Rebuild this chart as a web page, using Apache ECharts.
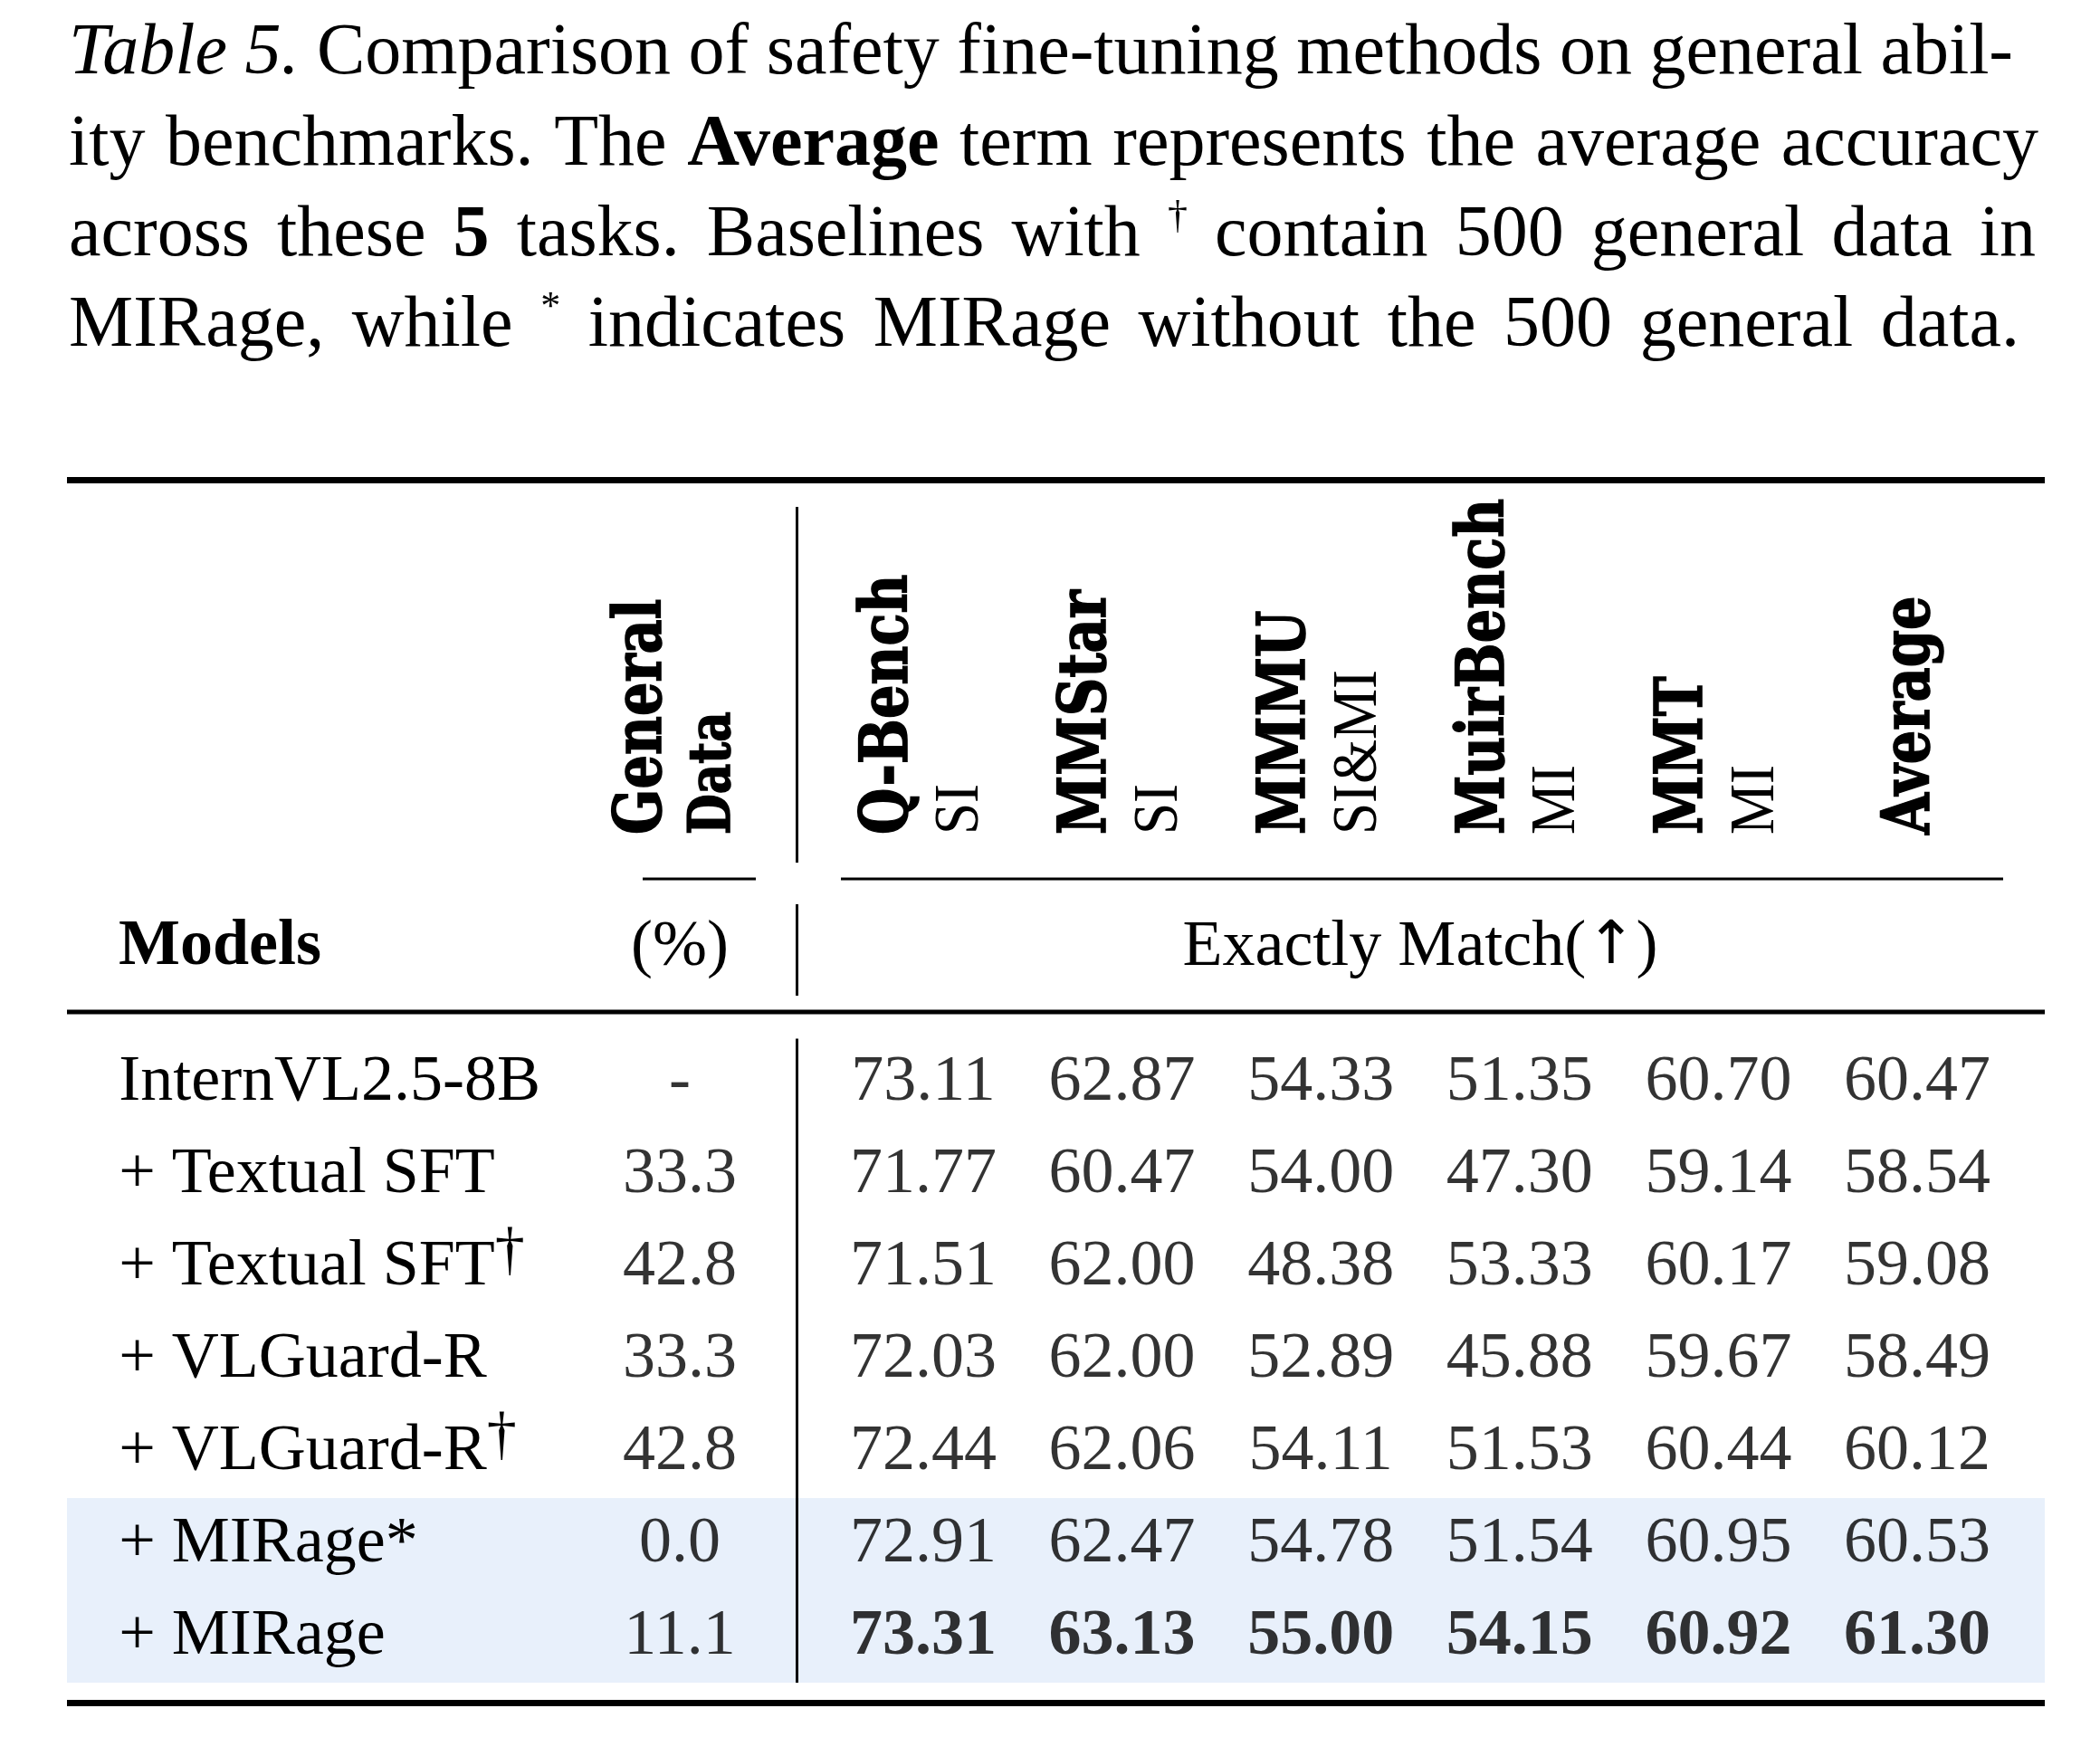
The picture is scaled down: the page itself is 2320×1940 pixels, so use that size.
<!DOCTYPE html>
<html>
<head>
<meta charset="utf-8">
<script src="https://cdn.jsdelivr.net/npm/echarts@6/dist/echarts.min.js"></script>
<style>
html,body{margin:0;padding:0;background:#ffffff;}
#chart{width:2320px;height:1940px;}
</style>
</head>
<body>
<div id="chart"></div>
<script>
// ---------------- DATA ----------------
const models = ['InternVL2.5-8B', '+ Textual SFT', '+ Textual SFT\u2020', '+ VLGuard-R', '+ VLGuard-R\u2020', '+ MIRage*', '+ MIRage'];
const generalData = [null, 33.3, 42.8, 33.3, 42.8, 0.0, 11.1];
const benchmarks = ['Q-Bench', 'MMStar', 'MMMU', 'MuirBench', 'MMT', 'Average'];
const benchmarkTypes = ['SI', 'SI', 'SI&MI', 'MI', 'MI', ''];
const qBench    = [73.11, 71.77, 71.51, 72.03, 72.44, 72.91, 73.31];
const mmStar    = [62.87, 60.47, 62.00, 62.00, 62.06, 62.47, 63.13];
const mmmu      = [54.33, 54.00, 48.38, 52.89, 54.11, 54.78, 55.00];
const muirBench = [51.35, 47.30, 53.33, 45.88, 51.53, 51.54, 54.15];
const mmt       = [60.70, 59.14, 60.17, 59.67, 60.44, 60.95, 60.92];
const average   = [60.47, 58.54, 59.08, 58.49, 60.12, 60.53, 61.30];
const highlightedModels = ['+ MIRage*', '+ MIRage'];
const boldModel = '+ MIRage';
const captionLines = [
  [['Table 5.', 'i'], [' Comparison of safety fine-tuning methods on general abil-', 'r']],
  [['ity benchmarks. The ', 'r'], ['Average', 'b'], [' term represents the average accuracy', 'r']],
  [['across these ', 'r'], ['5', 'b'], [' tasks. Baselines with ', 'r'], ['\u2020', 'sup'], [' contain 500 general data in', 'r']],
  [['MIRage, while ', 'r'], ['*', 'sup'], [' indicates MIRage without the 500 general data.', 'r']]
];

// ---------------- STYLE / LAYOUT ----------------
const SERIF = '"Liberation Serif", "Times New Roman", serif';
const HEAD = '"DejaVu Serif", serif';
const BODY_FS = 72;
const CAP_FS = 80;
const MID = 0.3375; // canvas middle-baseline offset (em) for Liberation Serif
const captionLeft = 76;
const captionRight = [2224, 2252, 2249, 2231];
const captionBaseline = [87, 188, 288, 388];
const tableLeft = 74, tableRight = 2259;
const bandColor = '#E8F0FB';
const headScale = 0.82;

const chart = echarts.init(document.getElementById('chart'), null, {renderer: 'canvas'});

const benchValues = [qBench, mmStar, mmmu, muirBench, mmt, average];
const numData = [];
benchValues.forEach((arr, i) => arr.forEach((v, j) => {
  numData.push({value: [i, j, v], label: {fontWeight: models[j] === boldModel ? 'bold' : 'normal'}});
}));
const gdData = generalData.map((v, j) => ({value: [0, j, v]}));

function fmtModel(name) {
  return name.replace(/\u2020/g, '{sup|\u2020}');
}

const labelBase = {show: true, position: 'inside', fontFamily: SERIF, fontSize: BODY_FS, color: '#000'};

const option = {
  animation: false,
  backgroundColor: '#ffffff',
  grid: [
    {left: 910.2, top: 1144.6, width: 1317.6, height: 714.5},
    {left: 701, top: 1144.6, width: 100, height: 714.5}
  ],
  xAxis: [
    {type: 'category', gridIndex: 0, data: benchmarks, show: false},
    {type: 'category', gridIndex: 1, data: ['General Data'], show: false}
  ],
  yAxis: [
    {type: 'category', gridIndex: 0, data: models, inverse: true,
     axisLine: {show: false}, axisTick: {show: false}, splitLine: {show: false},
     axisLabel: {interval: 0, align: 'left', margin: 779, fontFamily: SERIF, fontSize: BODY_FS, color: '#000',
       formatter: fmtModel,
       rich: {sup: {fontFamily: SERIF, fontSize: 66, color: '#000', padding: [0, 0, 32, 0]}}}},
    {type: 'category', gridIndex: 1, data: models, inverse: true, show: false}
  ],
  series: [
    {type: 'scatter', xAxisIndex: 0, yAxisIndex: 0, symbolSize: 1,
     itemStyle: {color: 'rgba(0,0,0,0)'}, encode: {x: 0, y: 1},
     label: Object.assign({}, labelBase, {formatter: p => p.value[2].toFixed(2)}),
     data: numData},
    {type: 'scatter', xAxisIndex: 1, yAxisIndex: 1, symbolSize: 1,
     itemStyle: {color: 'rgba(0,0,0,0)'}, encode: {x: 0, y: 1},
     label: Object.assign({}, labelBase, {formatter: p => p.value[2] == null ? '-' : p.value[2].toFixed(1)}),
     data: gdData}
  ]
};
chart.setOption(option);

// ---------------- DECORATION (derived from axes) ----------------
const colX = benchmarks.map((b, i) => chart.convertToPixel({xAxisIndex: 0}, i));
const gdX = chart.convertToPixel({xAxisIndex: 1}, 0);
const rowY = models.map((m, j) => chart.convertToPixel({yAxisIndex: 0}, j));
const rowH = rowY[1] - rowY[0];

const els = [];
function rect(x, y, w, h, fill, z) {
  els.push({type: 'rect', silent: true, z: z == null ? 5 : z, shape: {x, y, width: w, height: h}, style: {fill}});
}
function htext(x, y, text, font, align, rich) {
  els.push({type: 'text', silent: true, z: 5, x, y,
    style: {text, font, fill: '#000', textAlign: align, align: align, textVerticalAlign: 'middle', verticalAlign: 'middle', rich: rich}});
}
function vtext(x, y, text, font, s, heavy) {
  const style = {text, font, fill: '#000', textAlign: 'left', align: 'left', textVerticalAlign: 'middle', verticalAlign: 'middle'};
  if (heavy) { style.stroke = '#000'; style.lineWidth = 1.6; }
  els.push({type: 'text', silent: true, z: 5, x, y, rotation: Math.PI / 2, scaleX: s, scaleY: 1, style});
}

// highlight bands
models.forEach((m, j) => {
  if (highlightedModels.indexOf(m) >= 0) rect(tableLeft, rowY[j] - rowH / 2, tableRight - tableLeft, rowH, bandColor, -10);
});

// rules
rect(tableLeft, 527, tableRight - tableLeft, 7, '#000');
rect(tableLeft, 1115.5, tableRight - tableLeft, 5, '#000');
rect(tableLeft, 1878, tableRight - tableLeft, 7, '#000');
const vx = 880.5;
rect(vx - 1.5, 560, 3, 393, '#000');
rect(vx - 1.5, 999, 3, 101, '#000');
rect(vx - 1.5, rowY[0] - rowH / 2 + 3, 3, rowY[rowY.length - 1] + rowH / 2 - (rowY[0] - rowH / 2 + 3), '#000');
rect(gdX - 41, 969.5, 125, 3, '#000');
rect(colX[0] - 91, 969.5, colX[colX.length - 1] + 95 - (colX[0] - 91), 3, '#000');

// rotated headers
const headBottom = 922;
vtext(gdX - 40, headBottom, 'General', 'bold 72px ' + HEAD, headScale, true);
vtext(gdX + 39, headBottom, 'Data', 'bold 63px ' + HEAD, headScale, true);
benchmarks.forEach((b, i) => {
  if (benchmarkTypes[i]) {
    vtext(colX[i] - 37, headBottom, b, 'bold 72px ' + HEAD, headScale, true);
    vtext(colX[i] + 42, headBottom, benchmarkTypes[i], '70px ' + SERIF, 0.9, false);
  } else {
    vtext(colX[i] - 6, headBottom, b, 'bold 72px ' + HEAD, headScale, true);
  }
});

// second header row
const hdrY = 1071 - MID * BODY_FS;
htext(131, hdrY, 'Models', 'bold ' + BODY_FS + 'px ' + SERIF, 'left');
htext(gdX, hdrY, '(%)', BODY_FS + 'px ' + SERIF, 'center');
htext((colX[0] + colX[colX.length - 1]) / 2, hdrY, 'Exactly Match({arr|\u2191})', BODY_FS + 'px ' + SERIF, 'center',
  {arr: {fontFamily: '"DejaVu Sans", sans-serif', fontSize: 66, fontWeight: 'normal', fill: '#000', color: '#000'}});

// caption (justified lines)
const capFonts = {
  r: {font: CAP_FS + 'px ' + SERIF, fs: CAP_FS, raise: 0},
  i: {font: 'italic ' + CAP_FS + 'px ' + SERIF, fs: CAP_FS, raise: 0},
  b: {font: 'bold ' + CAP_FS + 'px ' + SERIF, fs: CAP_FS, raise: 0},
  sup: {font: '44px ' + SERIF, fs: 44, raise: 33}
};
const mctx = document.createElement('canvas').getContext('2d');
function measure(t, st) { mctx.font = capFonts[st].font; return mctx.measureText(t).width; }
function toWords(segs) {
  const words = []; let cur = [];
  segs.forEach(([text, st]) => {
    text.split(' ').forEach((p, k) => {
      if (k > 0) { if (cur.length) words.push(cur); cur = []; }
      if (p) cur.push([p, st]);
    });
  });
  if (cur.length) words.push(cur);
  return words;
}
captionLines.forEach((segs, li) => {
  const words = toWords(segs);
  const widths = words.map(w => w.reduce((s, [t, st]) => s + measure(t, st), 0));
  const total = widths.reduce((a, b) => a + b, 0);
  const gap = (captionRight[li] - captionLeft - total) / (words.length - 1);
  let x = captionLeft;
  words.forEach((w, wi) => {
    let px = x;
    w.forEach(([t, st]) => {
      const f = capFonts[st];
      htext(px, captionBaseline[li] - f.raise - MID * f.fs, t, f.font, 'left');
      px += measure(t, st);
    });
    x += widths[wi] + gap;
  });
});

chart.setOption({graphic: {elements: els}});
</script>
</body>
</html>
